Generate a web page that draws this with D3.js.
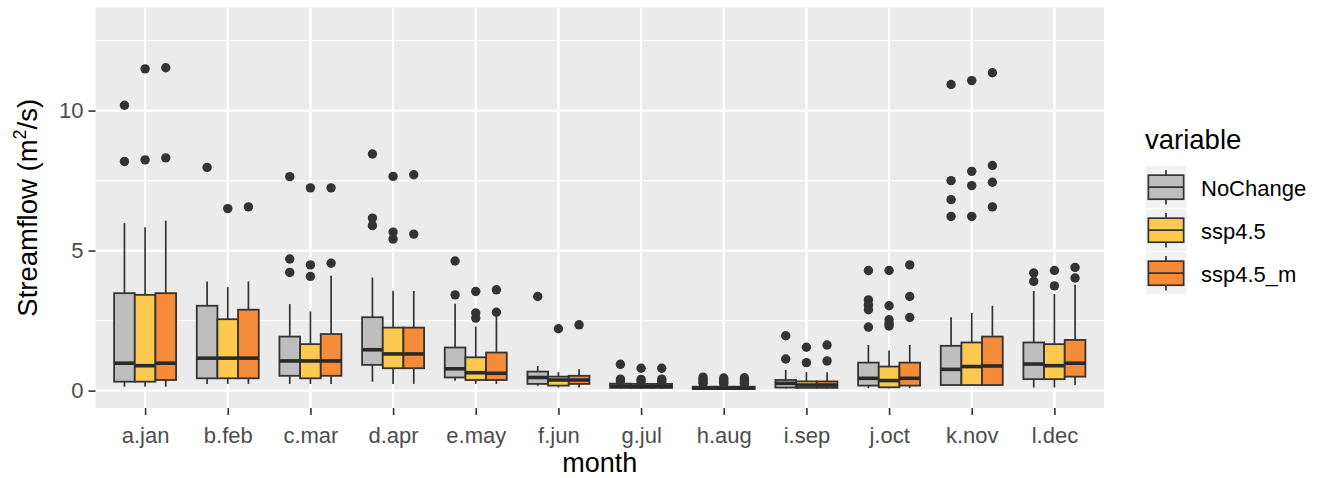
<!DOCTYPE html>
<html>
<head>
<meta charset="utf-8">
<script src="https://cdn.jsdelivr.net/npm/d3@7"></script>
<style>
  html, body { margin: 0; padding: 0; background: #ffffff; }
  svg { display: block; }
  text { font-family: "Liberation Sans", Arial, Helvetica, sans-serif; }
</style>
</head>
<body>
<svg id="chart" width="1318" height="478"></svg>
<script>
// ---------- DATA ----------
const months = ["a.jan","b.feb","c.mar","d.apr","e.may","f.jun","g.jul","h.aug","i.sep","j.oct","k.nov","l.dec"];
const seriesNames = ["NoChange","ssp4.5","ssp4.5_m"];
const seriesColors = ["#BEBEBE","#FDC94F","#F68B3A"];
const yTicks = [0, 5, 10];
const yMinorTicks = [2.5, 7.5, 12.5];

// [lower whisker, q1, median, q3, upper whisker]
const noChangeStats = [
  [0.14,0.32,0.98,3.48,5.98],[0.24,0.44,1.16,3.03,3.90],[0.24,0.53,1.06,1.93,3.09],
  [0.32,0.92,1.46,2.62,4.04],[0.35,0.47,0.78,1.54,3.10],[0.17,0.24,0.47,0.68,0.88],
  [0.07,0.10,0.16,0.25,0.30],[0.03,0.06,0.09,0.14,0.20],[0.08,0.11,0.26,0.38,0.74],
  [0.09,0.18,0.44,1.00,1.63],[0.20,0.20,0.76,1.60,2.62],[0.11,0.41,0.95,1.72,3.56]
];
const ssp45Stats = [
  [0.14,0.32,0.89,3.42,5.83],[0.24,0.44,1.16,2.55,3.70],[0.24,0.44,1.06,1.66,2.83],
  [0.24,0.80,1.31,2.25,3.56],[0.24,0.38,0.64,1.19,2.29],[0.11,0.18,0.38,0.50,0.66],
  [0.07,0.10,0.15,0.24,0.29],[0.03,0.06,0.09,0.14,0.20],[0.08,0.10,0.20,0.33,0.66],
  [0.08,0.12,0.36,0.86,1.43],[0.20,0.20,0.86,1.72,2.77],[0.11,0.41,0.89,1.66,3.45]
];
const ssp45mStats = [
  [0.14,0.38,0.98,3.48,6.07],[0.24,0.44,1.16,2.89,3.90],[0.24,0.53,1.06,2.02,4.10],
  [0.24,0.80,1.31,2.25,3.56],[0.24,0.38,0.62,1.36,2.65],[0.11,0.24,0.38,0.53,0.76],
  [0.07,0.10,0.15,0.24,0.29],[0.03,0.06,0.09,0.14,0.20],[0.08,0.10,0.20,0.33,0.66],
  [0.09,0.18,0.44,1.00,1.63],[0.20,0.20,0.88,1.93,3.03],[0.20,0.50,0.98,1.81,3.78]
];
const noChangeOut = [
  [10.19,8.18],[7.97],[7.64,4.70,4.22],[8.45,6.16,5.89],[4.63,3.42],[3.36],
  [0.94,0.41,0.34],[0.48,0.40,0.32,0.26],[1.96,1.13],[4.29,3.24,3.06,2.89,2.27],
  [10.93,7.50,6.82,6.22],[4.20,3.90]
];
const ssp45Out = [
  [11.49,8.24],[6.50],[7.24,4.49,4.08],[7.65,5.66,5.41],[3.54,2.77,2.59],[2.21],
  [0.80,0.40,0.33],[0.45,0.38,0.31,0.25],[1.55,1.00],[4.29,3.03,2.53,2.40,2.31],
  [11.07,7.83,7.32,6.22],[4.29,3.74]
];
const ssp45mOut = [
  [11.53,8.31],[6.56],[7.24,4.55],[7.71,5.59],[3.60,2.80],[2.35],
  [0.80,0.41,0.33],[0.46,0.38,0.31,0.25],[1.63,1.06],[4.49,3.36,2.61],
  [11.35,8.04,7.44,6.56],[4.40,4.02]
];

// ---------- LAYOUT ----------
const panel = {left: 95.5, right: 1104, top: 7.5, bottom: 408};
const svg = d3.select("#chart");
svg.append("rect").attr("width",1318).attr("height",478).attr("fill","#ffffff");

const x = d3.scalePoint().domain(months).range([panel.left, panel.right]).padding(0.6);
const step = x.step();
const dodge = d3.scaleBand().domain(seriesNames).range([-0.375*step, 0.375*step]).padding(0);
const y = d3.scaleLinear().domain([-0.62, 13.68]).range([panel.bottom, panel.top]);
const color = d3.scaleOrdinal().domain(seriesNames).range(seriesColors);

// panel background
svg.append("rect")
  .attr("x", panel.left).attr("y", panel.top)
  .attr("width", panel.right - panel.left).attr("height", panel.bottom - panel.top)
  .attr("fill", "#EBEBEB");

const grid = svg.append("g");
grid.selectAll("line.minor").data(yMinorTicks).join("line")
  .attr("x1", panel.left).attr("x2", panel.right)
  .attr("y1", d => y(d)).attr("y2", d => y(d))
  .attr("stroke", "#ffffff").attr("stroke-width", 1.1);
grid.selectAll("line.majory").data(yTicks).join("line")
  .attr("x1", panel.left).attr("x2", panel.right)
  .attr("y1", d => y(d)).attr("y2", d => y(d))
  .attr("stroke", "#ffffff").attr("stroke-width", 2.2);
grid.selectAll("line.majorx").data(months).join("line")
  .attr("x1", d => x(d)).attr("x2", d => x(d))
  .attr("y1", panel.top).attr("y2", panel.bottom)
  .attr("stroke", "#ffffff").attr("stroke-width", 2.2);

// ---------- BOXES ----------
const statsBySeries = [noChangeStats, ssp45Stats, ssp45mStats];
const outBySeries = [noChangeOut, ssp45Out, ssp45mOut];
const records = [];
months.forEach((m, mi) => {
  seriesNames.forEach((s, si) => {
    const st = statsBySeries[si][mi];
    records.push({month: m, series: s, lo: st[0], q1: st[1], med: st[2], q3: st[3], hi: st[4], out: outBySeries[si][mi]});
  });
});

const outline = "#333333";
const bw = dodge.bandwidth();
const boxes = svg.append("g");
records.forEach(r => {
  const g = boxes.append("g");
  const x0 = x(r.month) + dodge(r.series);
  const cx = x0 + bw / 2;
  g.append("line").attr("x1", cx).attr("x2", cx).attr("y1", y(r.q3)).attr("y2", y(r.hi))
    .attr("stroke", outline).attr("stroke-width", 1.7);
  g.append("line").attr("x1", cx).attr("x2", cx).attr("y1", y(r.q1)).attr("y2", y(r.lo))
    .attr("stroke", outline).attr("stroke-width", 1.7);
  g.append("rect").attr("x", x0).attr("width", bw)
    .attr("y", y(r.q3)).attr("height", Math.max(0.5, y(r.q1) - y(r.q3)))
    .attr("fill", color(r.series)).attr("stroke", outline).attr("stroke-width", 1.8);
  g.append("line").attr("x1", x0).attr("x2", x0 + bw).attr("y1", y(r.med)).attr("y2", y(r.med))
    .attr("stroke", "#2a2a2a").attr("stroke-width", 3.6);
  g.selectAll("circle").data(r.out).join("circle")
    .attr("cx", cx).attr("cy", d => y(d)).attr("r", 4.7)
    .attr("fill", outline);
});

// ---------- AXES ----------
const yAxis = svg.append("g").attr("transform", `translate(${panel.left},0)`)
  .call(d3.axisLeft(y).tickValues(yTicks).tickSize(7).tickPadding(5).tickFormat(d3.format("d")));
yAxis.select(".domain").remove();
yAxis.selectAll(".tick line").attr("stroke", "#333333").attr("stroke-width", 1.6);
yAxis.selectAll(".tick text").attr("fill", "#4D4D4D").style("font-size", "22px")
  .style("font-family", "'Liberation Sans', Arial, sans-serif");

const xAxis = svg.append("g").attr("transform", `translate(0,${panel.bottom})`)
  .call(d3.axisBottom(x).tickSize(7).tickPadding(12));
xAxis.select(".domain").remove();
xAxis.selectAll(".tick line").attr("stroke", "#333333").attr("stroke-width", 1.6);
xAxis.selectAll(".tick text").attr("fill", "#4D4D4D").style("font-size", "22px")
  .style("font-family", "'Liberation Sans', Arial, sans-serif");

// axis titles
svg.append("text").attr("x", (panel.left + panel.right) / 2).attr("y", 472)
  .attr("text-anchor", "middle").style("font-size", "27px").attr("fill", "#000")
  .text("month");

const yt = svg.append("text")
  .attr("transform", `translate(37,${(panel.top + panel.bottom) / 2}) rotate(-90)`)
  .attr("text-anchor", "middle").style("font-size", "27.5px").attr("fill", "#000");
yt.append("tspan").text("Streamflow (m");
yt.append("tspan").attr("dy", -11).style("font-size", "18px").text("2");
yt.append("tspan").attr("dy", 11).text("/s)");

// ---------- LEGEND ----------
const legend = svg.append("g");
const legX = 1145, legTop = 165.7, keyH = 43, keyW = 42;
legend.append("text").attr("x", legX).attr("y", 149)
  .style("font-size", "27.5px").attr("fill", "#000").text("variable");
seriesNames.forEach((s, i) => {
  const ty = legTop + i * keyH;
  legend.append("rect").attr("x", legX).attr("y", ty).attr("width", keyW).attr("height", keyH)
    .attr("fill", "#F2F2F2").attr("stroke", "#ffffff").attr("stroke-width", 1);
  const cx = legX + keyW / 2;
  legend.append("line").attr("x1", cx).attr("x2", cx).attr("y1", ty + 0.1 * keyH).attr("y2", ty + 0.9 * keyH)
    .attr("stroke", outline).attr("stroke-width", 1.7);
  legend.append("rect").attr("x", legX + 0.08 * keyW).attr("width", 0.84 * keyW)
    .attr("y", ty + 0.22 * keyH).attr("height", 0.56 * keyH)
    .attr("fill", color(s)).attr("stroke", outline).attr("stroke-width", 1.7);
  legend.append("line").attr("x1", legX + 0.08 * keyW).attr("x2", legX + 0.92 * keyW)
    .attr("y1", ty + 0.5 * keyH).attr("y2", ty + 0.5 * keyH)
    .attr("stroke", outline).attr("stroke-width", 1.7);
  legend.append("text").attr("x", 1201).attr("y", ty + keyH / 2 + 1)
    .attr("dominant-baseline", "central").style("font-size", "22px").attr("fill", "#000").text(s);
});
</script>
</body>
</html>
